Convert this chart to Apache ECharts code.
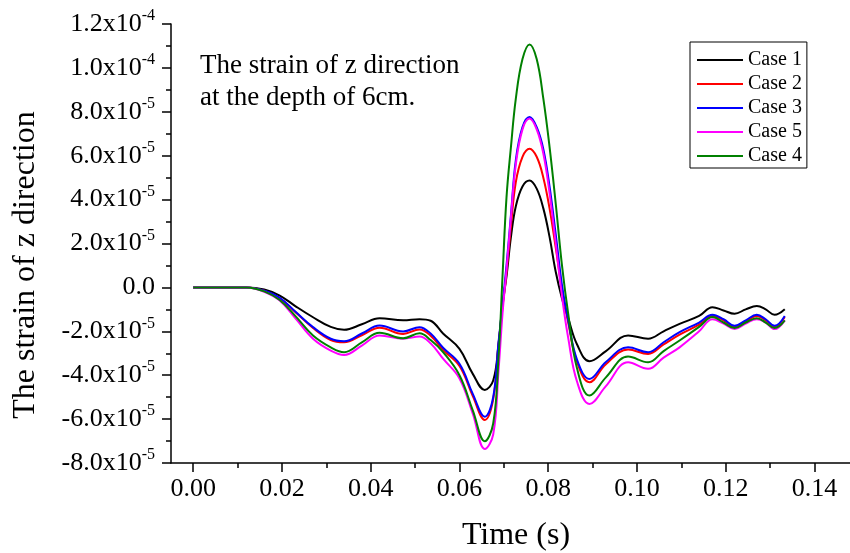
<!DOCTYPE html>
<html>
<head>
<meta charset="utf-8">
<script src="https://cdn.jsdelivr.net/npm/echarts@6/dist/echarts.min.js"></script>
<style>
  html, body { margin: 0; padding: 0; background: #fff; }
  #chart { width: 850px; height: 553px; }
</style>
</head>
<body>
<div id="chart"></div>
<script>
// Time (s)
const timeS = [0, 0.006, 0.012, 0.016, 0.0195, 0.023, 0.027, 0.031, 0.034, 0.038, 0.042, 0.0473, 0.051, 0.0535, 0.0563, 0.060, 0.063, 0.0657, 0.0676, 0.0688, 0.0697, 0.0706, 0.0716, 0.0727, 0.0742, 0.0758, 0.0774, 0.0789, 0.0803, 0.0817, 0.0831, 0.0845, 0.0865, 0.0893, 0.093, 0.098, 0.1025, 0.106, 0.1096, 0.114, 0.117, 0.1195, 0.122, 0.1245, 0.127, 0.129, 0.131, 0.1333];
// strain values in units of 1e-5
const case1 = [0, 0, 0, -0.1, -0.37, -0.85, -1.36, -1.8, -1.93, -1.68, -1.4, -1.5, -1.45, -1.52, -2.1, -2.8, -3.94, -4.67, -4.24, -2.6, -0.8, 0.5, 2.3, 3.7, 4.6, 4.87, 4.5, 3.6, 2.3, 0.7, -0.5, -1.4, -2.6, -3.36, -2.9, -2.19, -2.34, -2.0, -1.66, -1.3, -0.9, -1.05, -1.2, -1.0, -0.85, -1.0, -1.25, -1.0];
const case2 = [0, 0, 0, -0.15, -0.5, -1.12, -1.85, -2.4, -2.5, -2.18, -1.84, -2.12, -1.92, -2.2, -2.85, -3.58, -4.95, -6.04, -5.1, -2.6, -0.9, 0.7, 2.8, 4.8, 5.95, 6.32, 5.95, 5.0, 3.6, 1.8, -0.1, -1.6, -3.4, -4.32, -3.5, -2.83, -3.03, -2.6, -2.15, -1.7, -1.3, -1.5, -1.8, -1.55, -1.3, -1.5, -1.8, -1.35];
const case3 = [0, 0, 0, -0.15, -0.47, -1.1, -1.81, -2.34, -2.45, -2.1, -1.74, -2.01, -1.81, -2.1, -2.75, -3.48, -4.85, -5.89, -5.0, -2.5, -0.8, 1.0, 3.3, 5.8, 7.3, 7.76, 7.3, 6.3, 4.6, 2.4, 0.1, -1.5, -3.3, -4.17, -3.4, -2.73, -2.95, -2.5, -2.04, -1.6, -1.25, -1.45, -1.75, -1.5, -1.25, -1.45, -1.75, -1.3];
const case5 = [0, 0, 0, -0.2, -0.6, -1.4, -2.34, -2.88, -3.08, -2.65, -2.19, -2.34, -2.24, -2.55, -3.25, -4.15, -5.75, -7.36, -6.7, -3.8, -1.2, 0.8, 3.2, 5.6, 7.2, 7.69, 7.2, 6.1, 4.3, 2.0, -0.4, -2.3, -4.3, -5.31, -4.5, -3.41, -3.71, -3.2, -2.73, -2.0, -1.45, -1.65, -1.9, -1.65, -1.45, -1.6, -1.9, -1.5];
const case4 = [0, 0, 0, -0.18, -0.57, -1.3, -2.19, -2.73, -2.95, -2.5, -2.07, -2.32, -2.09, -2.4, -2.95, -4.0, -5.6, -7.01, -6.2, -3.2, 0.5, 4.1, 6.4, 8.6, 10.4, 11.07, 10.4, 8.6, 6.4, 3.8, 1.0, -1.2, -3.7, -4.93, -4.1, -3.15, -3.41, -2.9, -2.42, -1.8, -1.35, -1.6, -1.85, -1.6, -1.4, -1.6, -1.85, -1.5];

const seriesNames = ['Case 1', 'Case 2', 'Case 3', 'Case 5', 'Case 4'];
const seriesColors = ['#000000', '#ff0000', '#0000ff', '#ff00ff', '#008000'];
const seriesValues = [case1, case2, case3, case5, case4];

const xTickValues = [0, 0.02, 0.04, 0.06, 0.08, 0.10, 0.12, 0.14];
const xTickLabels = ['0.00', '0.02', '0.04', '0.06', '0.08', '0.10', '0.12', '0.14'];
const xMinorValues = [0.01, 0.03, 0.05, 0.07, 0.09, 0.11, 0.13];
const yTickValues = [-8, -6, -4, -2, 0, 2, 4, 6, 8, 10, 12];
const yTickLabels = ['-8.0x10{s|-5}', '-6.0x10{s|-5}', '-4.0x10{s|-5}', '-2.0x10{s|-5}', '0.0',
  '2.0x10{s|-5}', '4.0x10{s|-5}', '6.0x10{s|-5}', '8.0x10{s|-5}', '1.0x10{s|-4}', '1.2x10{s|-4}'];

const FONT = 'Liberation Serif, Times New Roman, serif';

function findLabel(values, labels, v) {
  for (let i = 0; i < values.length; i++) {
    if (Math.abs(values[i] - v) < 1e-9) return labels[i];
  }
  return '';
}

const chart = echarts.init(document.getElementById('chart'), null, { renderer: 'canvas' });

const option = {
  backgroundColor: '#ffffff',
  animation: false,
  grid: { left: 171, right: 0, top: 24, bottom: 90, containLabel: false },
  legend: {
    left: 690, top: 42, orient: 'vertical',
    data: seriesNames.map(function (n) { return { name: n, icon: 'rect' }; }),
    itemWidth: 46, itemHeight: 2, itemGap: 4,
    padding: [8, 5, 2, 7],
    borderColor: '#000', borderWidth: 1,
    textStyle: { fontFamily: FONT, fontSize: 20, color: '#000', lineHeight: 20 }
  },
  xAxis: [{
    type: 'value', min: -0.005, max: 0.148, position: 'bottom',
    axisLine: { show: true, onZero: false, lineStyle: { color: '#000', width: 1.5 } },
    axisTick: { show: true, inside: false, length: 9, customValues: xTickValues, lineStyle: { color: '#000', width: 1.5 } },
    axisLabel: {
      show: true, customValues: xTickValues, margin: 13,
      fontFamily: FONT, fontSize: 26, color: '#000',
      formatter: function (v) { return findLabel(xTickValues, xTickLabels, v); }
    },
    splitLine: { show: false }
  }, {
    type: 'value', min: -0.005, max: 0.148, position: 'bottom', gridIndex: 0,
    axisLine: { show: false, onZero: false },
    axisTick: { show: true, inside: false, length: 5, customValues: xMinorValues, lineStyle: { color: '#000', width: 1.5 } },
    axisLabel: { show: false },
    splitLine: { show: false }
  }],
  yAxis: {
    type: 'value', min: -8, max: 12, interval: 2,
    axisLine: { show: true, onZero: false, lineStyle: { color: '#000', width: 1.5 } },
    axisTick: { show: true, inside: false, length: 9, lineStyle: { color: '#000', width: 1.5 } },
    minorTick: { show: true, splitNumber: 2, length: 5, lineStyle: { color: '#000', width: 1.5 } },
    axisLabel: {
      margin: 16, fontFamily: FONT, fontSize: 26, color: '#000',
      formatter: function (v) { return findLabel(yTickValues, yTickLabels, v); },
      rich: {
        s: { fontFamily: FONT, fontSize: 16, lineHeight: 16, color: '#000', padding: [0, 0, 16, 0] }
      }
    },
    splitLine: { show: false }
  },
  graphic: [
    {
      type: 'text', x: 200, y: 50,
      style: {
        text: 'The strain of z direction\nat the depth of 6cm.',
        fontFamily: FONT, fontSize: 27, lineHeight: 32, fill: '#000',
        textAlign: 'left', textVerticalAlign: 'top'
      }
    },
    {
      type: 'text', x: 516, y: 536,
      style: {
        text: 'Time (s)', fontFamily: FONT, fontSize: 32, fill: '#000',
        textAlign: 'center', textVerticalAlign: 'middle'
      }
    },
    {
      type: 'text', x: 26, y: 265, rotation: Math.PI / 2,
      style: {
        text: 'The strain of z direction', fontFamily: FONT, fontSize: 32, fill: '#000',
        textAlign: 'center', textVerticalAlign: 'middle'
      }
    }
  ],
  series: seriesNames.map(function (name, k) {
    return {
      name: name, type: 'line', xAxisIndex: 0, yAxisIndex: 0,
      smooth: 0.4, symbol: 'none', showSymbol: false,
      lineStyle: { color: seriesColors[k], width: 2 },
      itemStyle: { color: seriesColors[k] },
      data: timeS.map(function (t, i) { return [t, seriesValues[k][i]]; })
    };
  })
};

chart.setOption(option);
</script>
</body>
</html>
